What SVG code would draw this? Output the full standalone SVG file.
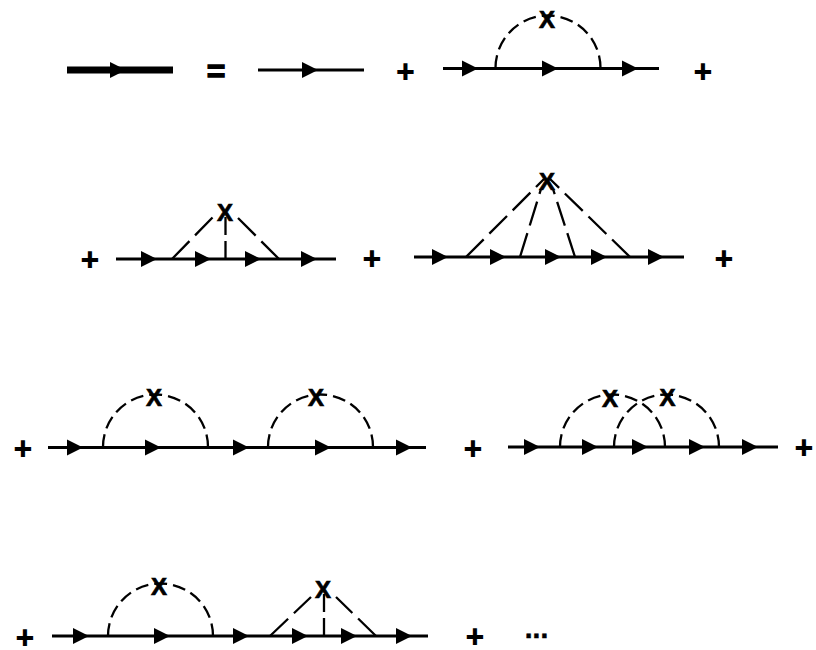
<svg xmlns="http://www.w3.org/2000/svg" width="816" height="650" viewBox="0 0 816 650">
<style>
.bg{fill:#fff}
.p{fill:none;stroke:#000;stroke-width:3}
.thick{fill:none;stroke:#000;stroke-width:7}
.arc{fill:none;stroke:#000;stroke-width:2.300;stroke-dasharray:13 6}
.d{fill:none;stroke:#000;stroke-width:2.300;stroke-dasharray:25 8}
.v{stroke-dasharray:18 6 30}
text{font-family:"Liberation Sans",Arial,sans-serif;font-weight:bold;fill:#000;text-anchor:middle}
.s{font-family:"DejaVu Sans",sans-serif;font-weight:normal;font-size:22.500px;stroke:#000;stroke-width:2.200}
.e{font-size:32px;stroke:#000;stroke-width:1.300}
.x{font-size:24px;stroke:#000;stroke-width:.7}
.dots{font-size:28px;stroke:#000;stroke-width:.5}
</style>
<defs>
<path id="a" d="M0-8L16 0L0 8z"/>
</defs>
<rect class="bg" width="816" height="650"/>
<g id="connectors">
<path class="thick" d="M67 70H173"/>
<use href="#a" x="110" y="70"/>
<path class="p" d="M258 70H364"/>
<use href="#a" x="302" y="70"/>
<path class="p" d="M443 68.500H659"/>
<use href="#a" x="462" y="68.500"/><use href="#a" x="542" y="68.500"/><use href="#a" x="622" y="68.500"/>
<path class="arc" d="M495.500 68A52.500 52.500 0 0 1 600.500 68"/>
<path class="p" d="M116 259H336"/>
<use href="#a" x="141" y="259"/><use href="#a" x="195" y="259"/><use href="#a" x="245" y="259"/><use href="#a" x="301" y="259"/>
<path class="d" d="M172 259L213 217"/>
<path class="d v" d="M225.500 259V217"/>
<path class="d" d="M279 259L238 218"/>
<path class="p" d="M414 257H684"/>
<use href="#a" x="432" y="257"/><use href="#a" x="490" y="257"/><use href="#a" x="545" y="257"/><use href="#a" x="591" y="257"/><use href="#a" x="648" y="257"/>
<path class="d" d="M466 257L544 179"/>
<path class="d" d="M520 257L541 189"/>
<path class="d" d="M575 257L553 189"/>
<path class="d" d="M630 257L550 179"/>
<path class="p" d="M48 447.500H426"/>
<use href="#a" x="67" y="447.500"/><use href="#a" x="145" y="447.500"/><use href="#a" x="233" y="447.500"/><use href="#a" x="315" y="447.500"/><use href="#a" x="396" y="447.500"/>
<path class="arc" d="M103 447A52.500 52.500 0 0 1 208 447"/>
<path class="arc" d="M268 447A52.500 52.500 0 0 1 373 447"/>
<path class="p" d="M508 447H778"/>
<use href="#a" x="524" y="447"/><use href="#a" x="582" y="447"/><use href="#a" x="632" y="447"/><use href="#a" x="689" y="447"/><use href="#a" x="742" y="447"/>
<path class="arc" d="M560 447A52.500 52.500 0 0 1 665 447"/>
<path class="arc" d="M614 447A52.500 52.500 0 0 1 719 447"/>
<path class="p" d="M52 636H428"/>
<use href="#a" x="73" y="636"/><use href="#a" x="154" y="636"/><use href="#a" x="233" y="636"/><use href="#a" x="292" y="636"/><use href="#a" x="341" y="636"/><use href="#a" x="396" y="636"/>
<path class="arc" d="M108 636A52.500 52.500 0 0 1 213 636"/>
<path class="d" d="M270 636L311 597"/>
<path class="d v" d="M324 636V594"/>
<path class="d" d="M376 636L336 597"/>
</g>
<g id="eq"><text class="e" x="216" y="81.500">=</text></g>
<g id="plus1"><text class="s" x="405.500" y="79">+</text></g>
<g id="plus2"><text class="s" x="703" y="79">+</text></g>
<g id="plus3"><text class="s" x="90" y="267">+</text></g>
<g id="plus4"><text class="s" x="372" y="266">+</text></g>
<g id="plus5"><text class="s" x="724" y="266">+</text></g>
<g id="plus6"><text class="s" x="23" y="456">+</text></g>
<g id="plus7"><text class="s" x="473" y="456">+</text></g>
<g id="plus8"><text class="s" x="804" y="455">+</text></g>
<g id="plus9"><text class="s" x="25" y="645">+</text></g>
<g id="plus10"><text class="s" x="475" y="644">+</text></g>
<g id="dots"><text class="dots" x="536.500" y="638">...</text></g>
<g id="x1"><text class="x" x="547" y="27.500">X</text></g>
<g id="x2"><text class="x" x="225" y="220.500">X</text></g>
<g id="x3"><text class="x" x="547" y="190">X</text></g>
<g id="x4"><text class="x" x="154" y="406">X</text></g>
<g id="x5"><text class="x" x="316" y="405.500">X</text></g>
<g id="x6"><text class="x" x="610" y="407">X</text></g>
<g id="x7"><text class="x" x="667.500" y="406">X</text></g>
<g id="x8"><text class="x" x="159" y="595">X</text></g>
<g id="x9"><text class="x" x="323" y="598">X</text></g>
</svg>
